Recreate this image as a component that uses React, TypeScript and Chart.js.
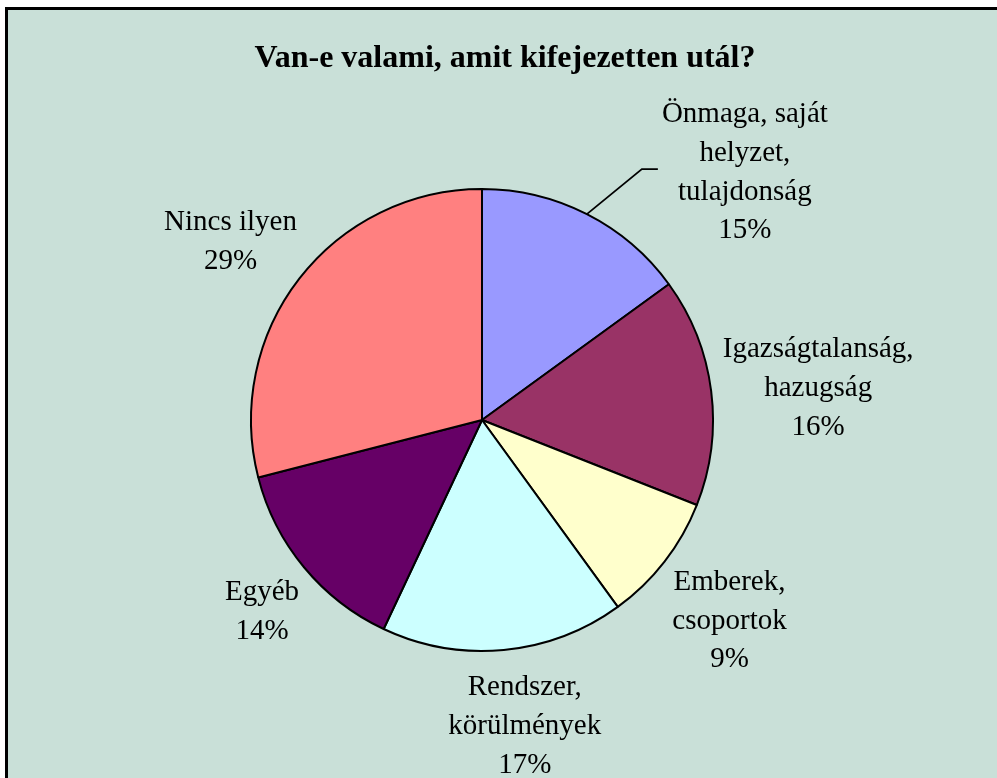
import React, { useEffect, useRef } from "react";
import { Chart, registerables } from "chart.js";

Chart.register(...registerables);

const TITLE = "Van-e valami, amit kifejezetten utál?";
const categories = [
  "Önmaga, saját\nhelyzet,\ntulajdonság",
  "Igazságtalanság,\nhazugság",
  "Emberek,\ncsoportok",
  "Rendszer,\nkörülmények",
  "Egyéb",
  "Nincs ilyen",
];
const values = [15, 16, 9, 17, 14, 29];
const colors = ["#9999FF", "#993366", "#FFFFCC", "#CCFFFF", "#660066", "#FF8080"];

// label layout: offset of the text block (x centre, mean baseline) from the slice's outer mid point
const labelOffsets: [number, number][] = [
  [158, -34],
  [107, 5],
  [65, 67],
  [21, 84],
  [-42, 52],
  [-69, -29],
];
const leaderIndex = 0;
const leaderElbow: [number, number] = [55, -45];
const leaderEnd: [number, number] = [71, -45];

const BG = "#C9E0D8";
const LABEL_FONT = '29px "Liberation Serif"';
const TITLE_FONT = 'bold 32px "Liberation Serif"';
const LINE_H = 38.7;

const framePlugin = {
  id: "frame",
  beforeDraw(chart: any) {
    const ctx = chart.ctx;
    ctx.save();
    ctx.fillStyle = "#000";
    ctx.fillRect(5, 7, chart.width, chart.height);
    ctx.fillStyle = BG;
    ctx.fillRect(8, 10, chart.width, chart.height);
    ctx.fillStyle = "#000";
    ctx.font = TITLE_FONT;
    ctx.textAlign = "center";
    ctx.textBaseline = "alphabetic";
    ctx.fillText(TITLE, 505, 67);
    ctx.restore();
  },
};

const labelPlugin = {
  id: "pieLabels",
  afterDatasetsDraw(chart: any) {
    const ctx = chart.ctx;
    const meta = chart.getDatasetMeta(0);
    const data: number[] = chart.data.datasets[0].data;
    const total = data.reduce((a, b) => a + b, 0);
    ctx.save();
    ctx.fillStyle = "#000";
    ctx.strokeStyle = "#000";
    ctx.font = LABEL_FONT;
    ctx.textAlign = "center";
    ctx.textBaseline = "alphabetic";
    meta.data.forEach((arc: any, i: number) => {
      const p = arc.getProps(["x", "y", "startAngle", "endAngle", "outerRadius"], true);
      const mid = (p.startAngle + p.endAngle) / 2;
      const ax = p.x + Math.cos(mid) * p.outerRadius;
      const ay = p.y + Math.sin(mid) * p.outerRadius;
      const pct = Math.round((data[i] / total) * 100) + "%";
      const lines = String(chart.data.labels[i]).split("\n").concat([pct]);
      const cx = ax + labelOffsets[i][0];
      const mb = ay + labelOffsets[i][1];
      const n = lines.length;
      lines.forEach((l: string, j: number) => {
        ctx.fillText(l, cx, mb + (j - (n - 1) / 2) * LINE_H);
      });
      if (i === leaderIndex) {
        ctx.lineWidth = 1.8;
        ctx.beginPath();
        ctx.moveTo(ax, ay);
        ctx.lineTo(ax + leaderElbow[0], ay + leaderElbow[1]);
        ctx.lineTo(ax + leaderEnd[0], ay + leaderEnd[1]);
        ctx.stroke();
      }
    });
    ctx.restore();
  },
};

export default function App() {
  const ref = useRef<HTMLCanvasElement | null>(null);
  useEffect(() => {
    if (!ref.current) return;
    const chart = new Chart(ref.current, {
      type: "pie",
      data: {
        labels: categories,
        datasets: [
          {
            data: values,
            backgroundColor: colors,
            borderColor: "#000",
            borderWidth: 2,
          },
        ],
      },
      options: {
        animation: false,
        responsive: false,
        layout: { padding: { left: 250, right: 283, top: 188, bottom: 126 } },
        plugins: {
          legend: { display: false },
          tooltip: { enabled: false },
          title: { display: false },
        },
      },
      plugins: [framePlugin, labelPlugin],
    });
    return () => chart.destroy();
  }, []);
  return (
    <div style={{ position: "absolute", left: 0, top: 0, width: 997, height: 778, overflow: "hidden" }}>
      <canvas ref={ref} width={997} height={778} style={{ display: "block" }} />
    </div>
  );
}
